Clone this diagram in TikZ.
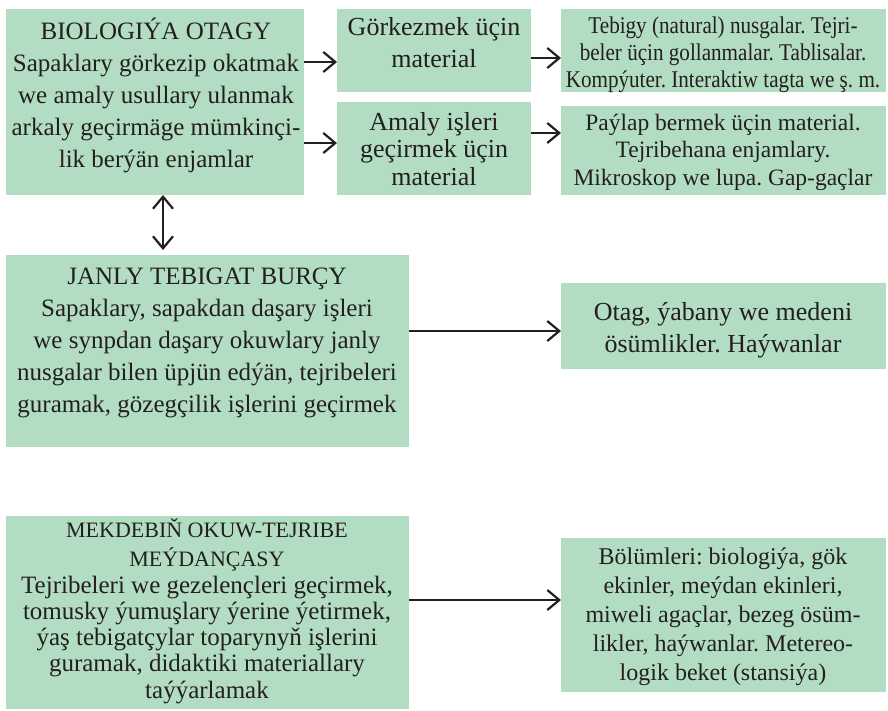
\documentclass[tikz,border=0pt]{standalone}
\usepackage{fontspec}
\setmainfont{Liberation Serif}
\newfontfamily\condfont[FakeStretch=0.88]{Liberation Serif}
\usetikzlibrary{arrows.meta,calc}
\definecolor{boxgreen}{RGB}{179,221,194}
\definecolor{ink}{RGB}{35,31,32}
\frenchspacing
\begin{document}
\begin{tikzpicture}[x=1pt,y=-1pt,
  box/.style={fill=boxgreen, draw=none, inner sep=0pt, outer sep=0pt, anchor=north west},
  txt/.style={text=ink, align=center, inner sep=0pt, anchor=base},
  arr/.style={draw=ink, line width=2.2pt, -{Straight Barb[length=12pt,width=20pt]}},
  darr/.style={draw=ink, line width=2.2pt, {Straight Barb[length=12pt,width=20pt]}-{Straight Barb[length=12pt,width=20pt]}}]
\useasboundingbox (0,0) rectangle (888,710);

% boxes
\node[box, minimum width=298pt, minimum height=186pt] (A) at (6,9) {};
\node[box, minimum width=194pt, minimum height=83pt] (B) at (337,9) {};
\node[box, minimum width=194pt, minimum height=93pt] (C) at (337,102) {};
\node[box, minimum width=325pt, minimum height=83pt] (D) at (561,9) {};
\node[box, minimum width=325pt, minimum height=89pt] (E) at (561,106) {};
\node[box, minimum width=403pt, minimum height=192pt] (F) at (6,255) {};
\node[box, minimum width=325pt, minimum height=86pt] (G) at (561,283) {};
\node[box, minimum width=403pt, minimum height=193pt] (H) at (6,516) {};
\node[box, minimum width=325pt, minimum height=154pt] (I) at (561,538) {};

% texts (anchor base = baseline of the last line)
\node[txt, font=\fontsize{25}{32}\selectfont] (At) at (156,167)
  {BIOLOGIÝA OTAGY\\Sapaklary görkezip okatmak\\we amaly usullary ulanmak\\arkaly geçirmäge mümkinçi-\\lik berýän enjamlar};
\node[txt, font=\fontsize{26}{32}\selectfont] (Bt) at (434,67)
  {Görkezmek üçin\\material};
\node[txt, font=\fontsize{26}{27.5}\selectfont] (Ct) at (434,185)
  {Amaly işleri\\geçirmek üçin\\material};
\node[txt, font=\condfont\fontsize{24}{27}\selectfont] (Dt) at (723,87)
  {Tebigy (natural) nusgalar. Tejri-\\beler üçin gollanmalar. Tablisalar.\\Kompýuter. Interaktiw tagta we ş. m.};
\node[txt, font=\fontsize{23.5}{27.5}\selectfont] (Et) at (723,185)
  {Paýlap bermek üçin material.\\Tejribehana enjamlary.\\Mikroskop we lupa. Gap-gaçlar};
\node[txt, font=\fontsize{25}{32}\selectfont] (Ft) at (207,412)
  {JANLY TEBIGAT BURÇY\\Sapaklary, sapakdan daşary işleri\\we synpdan daşary okuwlary janly\\nusgalar bilen üpjün edýän, tejribeleri\\guramak, gözegçilik işlerini geçirmek};
\node[txt, font=\fontsize{26}{32}\selectfont] (Gt) at (723,352)
  {Otag, ýabany we medeni\\ösümlikler. Haýwanlar};
\node[txt, font=\fontsize{25}{26.25}\selectfont] (Ht) at (207,698)
  {{\fontsize{22}{26.25}\selectfont MEKDEBIŇ OKUW-TEJRIBE}\\[3pt]{\fontsize{22}{26.25}\selectfont MEÝDANÇASY}\\Tejribeleri we gezelençleri geçirmek,\\tomusky ýumuşlary ýerine ýetirmek,\\ýaş tebigatçylar toparynyň işlerini\\guramak, didaktiki materiallary\\taýýarlamak};
\node[txt, font=\fontsize{24}{29}\selectfont] (It) at (723,680)
  {Bölümleri: biologiýa, gök\\ekinler, meýdan ekinleri,\\miweli agaçlar, bezeg ösüm-\\likler, haýwanlar. Metereo-\\logik beket (stansiýa)};

% connectors
\draw[arr] ($(A.north east)+(0,53)$) -- ($(B.north west)+(0,53)$);
\draw[arr] ($(A.north east)+(0,134)$) -- ($(C.north west)+(0,41)$);
\draw[arr] ($(B.north east)+(0,49)$) -- ($(D.north west)+(0,49)$);
\draw[arr] ($(C.north east)+(0,31)$) -- ($(E.north west)+(0,27)$);
\draw[darr, shorten >=5pt] ($(A.south west)+(157,0)$) -- ($(F.north west)+(157,0)$);
\draw[arr] ($(F.north east)+(0,76)$) -- ($(G.north west)+(0,48)$);
\draw[arr] ($(H.north east)+(0,84)$) -- ($(I.north west)+(0,62)$);
\end{tikzpicture}
\end{document}
